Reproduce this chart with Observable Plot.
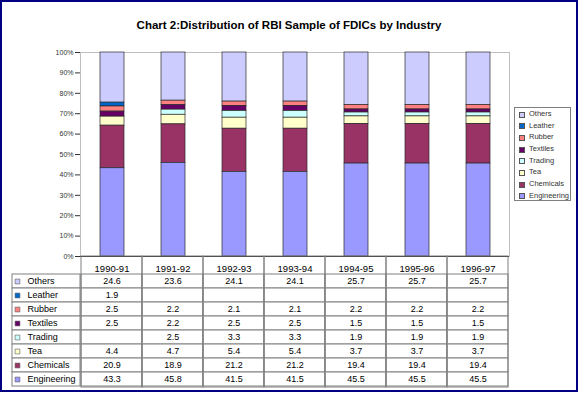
<!DOCTYPE html>
<html>
<head>
<meta charset="utf-8">
<script src="https://cdn.jsdelivr.net/npm/d3@7"></script>
<script src="https://cdn.jsdelivr.net/npm/@observablehq/plot@0.6"></script>
<style>
  html, body { margin: 0; padding: 0; background: #fff; }
  body { width: 578px; height: 396px; position: relative; overflow: hidden; font-family: "Liberation Sans", Arial, sans-serif; }
  .abs { position: absolute; }
  #border { left: 0; top: 0; width: 574px; height: 388px; border: 2px solid #000080; }
  #title { left: 0; top: 17.5px; width: 578px; text-align: center; font-weight: bold; font-size: 11.5px; line-height: 14px; color: #000; }
  #legend { left: 514px; top: 107px; width: 55px; height: 92px; border: 1px solid #808080; background: #fff; }
  #legend .row { height: 11.7px; line-height: 11.7px; font-size: 7.5px; color: #333; white-space: nowrap; position: relative; }
  #legend .sw { position: absolute; left: 4px; top: 3.6px; width: 4px; height: 4px; border: 0.6px solid #555; }
  #legend .lb { position: absolute; left: 14px; top: 0; }
  svg { overflow: visible; }
</style>
</head>
<body>
<div id="border" class="abs"></div>
<div id="title" class="abs">Chart 2:Distribution of RBI Sample of FDICs by Industry</div>
<div id="chart" class="abs" style="left:0;top:0"></div>
<div id="table" class="abs" style="left:0;top:256px"></div>
<div id="labels" class="abs" style="left:0;top:256px"></div>
<div id="legend" class="abs"></div>
<script>
// ---- data ----
const years = ["1990-91", "1991-92", "1992-93", "1993-94", "1994-95", "1995-96", "1996-97"];
const series = ["Others", "Leather", "Rubber", "Textiles", "Trading", "Tea", "Chemicals", "Engineering"];
const colors = ["#ccccff", "#0066cc", "#ff8080", "#660066", "#ccffff", "#ffffcc", "#993366", "#9999ff"];
const others      = [24.6, 23.6, 24.1, 24.1, 25.7, 25.7, 25.7];
const leather     = [1.9, null, null, null, null, null, null];
const rubber      = [2.5, 2.2, 2.1, 2.1, 2.2, 2.2, 2.2];
const textiles    = [2.5, 2.2, 2.5, 2.5, 1.5, 1.5, 1.5];
const trading     = [null, 2.5, 3.3, 3.3, 1.9, 1.9, 1.9];
const tea         = [4.4, 4.7, 5.4, 5.4, 3.7, 3.7, 3.7];
const chemicals   = [20.9, 18.9, 21.2, 21.2, 19.4, 19.4, 19.4];
const engineering = [43.3, 45.8, 41.5, 41.5, 45.5, 45.5, 45.5];

const valuesBySeries = {
  Others: others, Leather: leather, Rubber: rubber, Textiles: textiles,
  Trading: trading, Tea: tea, Chemicals: chemicals, Engineering: engineering
};
const grid = [];
for (const s of series) years.forEach((y, i) => grid.push({series: s, year: y, value: valuesBySeries[s][i]}));
const rows = grid.filter(d => d.value != null);
const stackOrder = series.slice().reverse(); // Engineering at bottom
const font = "Liberation Sans, Arial, sans-serif";

// ---- chart ----
const chart = Plot.plot({
  width: 578, height: 260,
  marginTop: 52, marginBottom: 4, marginLeft: 80, marginRight: 69,
  style: {background: "transparent", fontFamily: font, color: "#333", fontSize: "7px"},
  x: {domain: years, paddingInner: 0.61, paddingOuter: 0.305, axis: null},
  y: {domain: [0, 1], ticks: d3.range(0, 1.0001, 0.1), tickFormat: d3.format(".0%"), tickSize: 5, tickPadding: 2, label: null, line: true},
  color: {domain: series, range: colors},
  marks: [
    Plot.frame({stroke: "#c0c0c0"}),
    Plot.barY(rows, Plot.stackY({
      x: "year", y: "value", fill: "series", order: stackOrder, offset: "normalize",
      stroke: "#2a2a2a", strokeWidth: 0.7
    })),
    Plot.ruleY([0], {stroke: "#222"})
  ]
});
document.getElementById("chart").appendChild(chart);

// ---- data table (values) ----
const table = Plot.plot({
  width: 578, height: 132,
  marginTop: 17, marginBottom: 1, marginLeft: 80, marginRight: 69,
  style: {background: "transparent", fontFamily: font, color: "#000"},
  x: {domain: years, padding: 0, axis: null},
  y: {domain: series, padding: 0, axis: null},
  marks: [
    Plot.cell(grid, {x: "year", y: "series", fill: "white", stroke: "#808080", strokeWidth: 1}),
    Plot.cell(years, {x: d => d, fill: "none", stroke: "#808080", strokeWidth: 1, insetTop: -17}),
    Plot.text(years, {x: d => d, frameAnchor: "top", dy: -8.5, fontSize: 9.5, fill: "#000"}),
    Plot.text(rows, {x: "year", y: "series", text: d => d.value.toFixed(1), fontSize: 9, fill: "#000"})
  ]
});
document.getElementById("table").appendChild(table);

// ---- data table (row labels with keys) ----
const labels = Plot.plot({
  width: 80, height: 132,
  marginTop: 17, marginBottom: 1, marginLeft: 12, marginRight: 0,
  style: {background: "transparent", fontFamily: font, color: "#000"},
  y: {domain: series, padding: 0, axis: null},
  color: {domain: series, range: colors},
  marks: [
    Plot.cell(series, {y: d => d, fill: "white", stroke: "#808080", strokeWidth: 1}),
    Plot.dot(series, {y: d => d, frameAnchor: "left", dx: 5, symbol: "square", r: 2.7, fill: d => d, stroke: "#555", strokeWidth: 0.6}),
    Plot.text(series, {y: d => d, frameAnchor: "left", dx: 15, textAnchor: "start", fontSize: 9, fill: "#000"})
  ]
});
document.getElementById("labels").appendChild(labels);

// ---- legend ----
const legend = document.getElementById("legend");
series.forEach((s, i) => {
  const row = document.createElement("div");
  row.className = "row";
  row.innerHTML = `<span class="sw" style="background:${colors[i]}"></span><span class="lb">${s}</span>`;
  legend.appendChild(row);
});
</script>
</body>
</html>
